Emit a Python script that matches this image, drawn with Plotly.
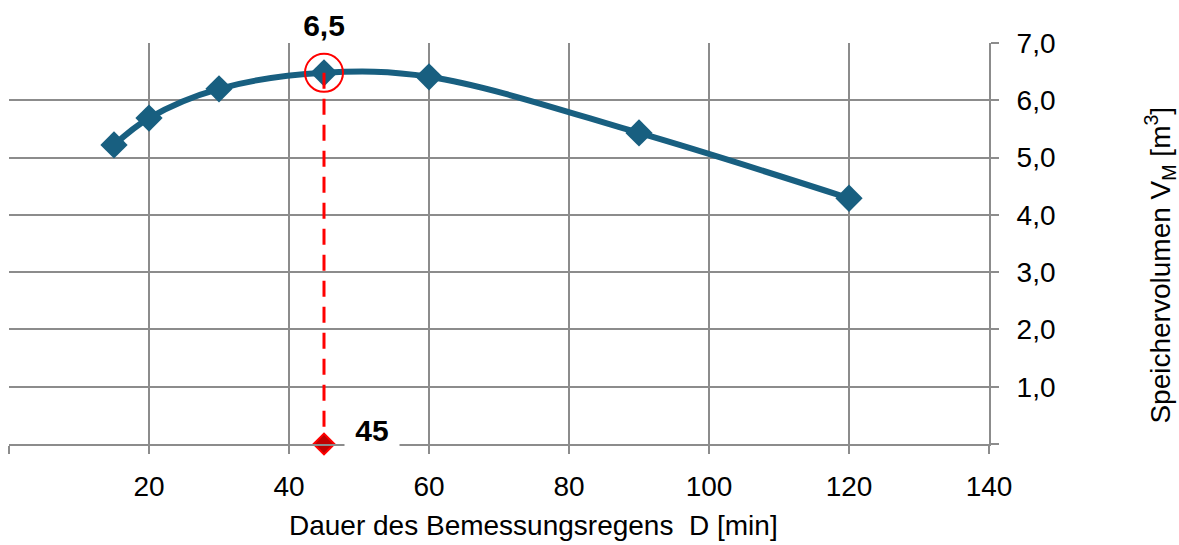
import plotly.graph_objects as go

dauer = [15, 20, 30, 45, 60, 90, 120]
volumen = [5.22, 5.69, 6.20, 6.48, 6.41, 5.43, 4.29]
opt_dauer = 45
opt_vol = 6.48
opt_label = "6,5"
opt_dauer_label = "45"
x_ticks = [0, 20, 40, 60, 80, 100, 120, 140]
x_ticktext = ["", "20", "40", "60", "80", "100", "120", "140"]
y_ticks = [0, 1, 2, 3, 4, 5, 6, 7]
y_ticktext = ["", "1,0", "2,0", "3,0", "4,0", "5,0", "6,0", "7,0"]

FONT = "Liberation Sans, Arial, sans-serif"
GRID = "#8c8c8c"
BLUE = "#185f80"

fig = go.Figure()
fig.add_trace(go.Scatter(
    x=dauer, y=volumen, mode="lines+markers",
    line=dict(color=BLUE, width=6, shape="spline", smoothing=1.0),
    marker=dict(symbol="diamond", size=21, color=BLUE),
    hoverinfo="skip", showlegend=False))
fig.add_trace(go.Scatter(
    x=[opt_dauer, opt_dauer], y=[opt_vol, 0], mode="lines",
    line=dict(color="#ff0000", width=3, dash="16px,10px"),
    showlegend=False, hoverinfo="skip"))
fig.add_trace(go.Scatter(
    x=[opt_dauer], y=[opt_vol], mode="markers",
    marker=dict(symbol="circle-open", size=38, color="#ff0000", line=dict(width=2, color="#ff0000")),
    showlegend=False, hoverinfo="skip"))
fig.add_trace(go.Scatter(
    x=[opt_dauer], y=[0], mode="markers", cliponaxis=False,
    marker=dict(symbol="diamond", size=16, color="#c00000", line=dict(width=2, color="#ff0000")),
    showlegend=False, hoverinfo="skip"))

fig.add_annotation(x=opt_dauer, y=7, xref="x", yref="y", text="<b>" + opt_label + "</b>",
                   showarrow=False, xanchor="center", yanchor="middle", yshift=18,
                   width=62, height=36, bgcolor="white",
                   font=dict(family=FONT, size=30, color="black"))
fig.add_annotation(x=opt_dauer, y=0, xref="x", yref="y", text="<b>" + opt_dauer_label + "</b>",
                   showarrow=False, xanchor="center", yanchor="middle", xshift=48, yshift=14,
                   width=52, height=36, bgcolor="white",
                   font=dict(family=FONT, size=30, color="black"))
fig.add_annotation(x=0.5357, y=-0.202, xref="paper", yref="paper",
                   text="Dauer des Bemessungsregens\u00a0\u00a0D [min]", showarrow=False,
                   xanchor="center", yanchor="middle",
                   font=dict(family=FONT, size=28, color="black"))
fig.add_annotation(x=1.1745, y=0.445, xref="paper", yref="paper",
                   text="Speichervolumen V<sub>M</sub> [m<sup>3</sup>]", showarrow=False,
                   textangle=-90, xanchor="center", yanchor="middle",
                   font=dict(family=FONT, size=28, color="black"))

fig.update_layout(
    width=1179, height=545,
    margin=dict(l=9, r=190, t=43, b=101, autoexpand=False),
    paper_bgcolor="white", plot_bgcolor="white",
    font=dict(family=FONT, size=28, color="black"),
    xaxis=dict(range=[0, 140], tickvals=x_ticks, ticktext=x_ticktext,
               showgrid=True, gridcolor=GRID, gridwidth=2,
               showline=True, linecolor=GRID, linewidth=2,
               ticks="outside", ticklen=8, tickcolor=GRID, tickwidth=2,
               ticklabelstandoff=8, automargin=False,
               zeroline=False, mirror=False),
    yaxis=dict(range=[0, 7], tickvals=y_ticks, ticktext=y_ticktext, side="right",
               showgrid=True, gridcolor=GRID, gridwidth=2,
               showline=True, linecolor=GRID, linewidth=2,
               ticks="outside", ticklen=8, tickcolor=GRID, tickwidth=2,
               ticklabelstandoff=12, automargin=False,
               zeroline=False),
)
fig.write_html("out.html", config={"displayModeBar": False},
               post_script="document.body.style.margin='0';document.body.style.padding='0';")
